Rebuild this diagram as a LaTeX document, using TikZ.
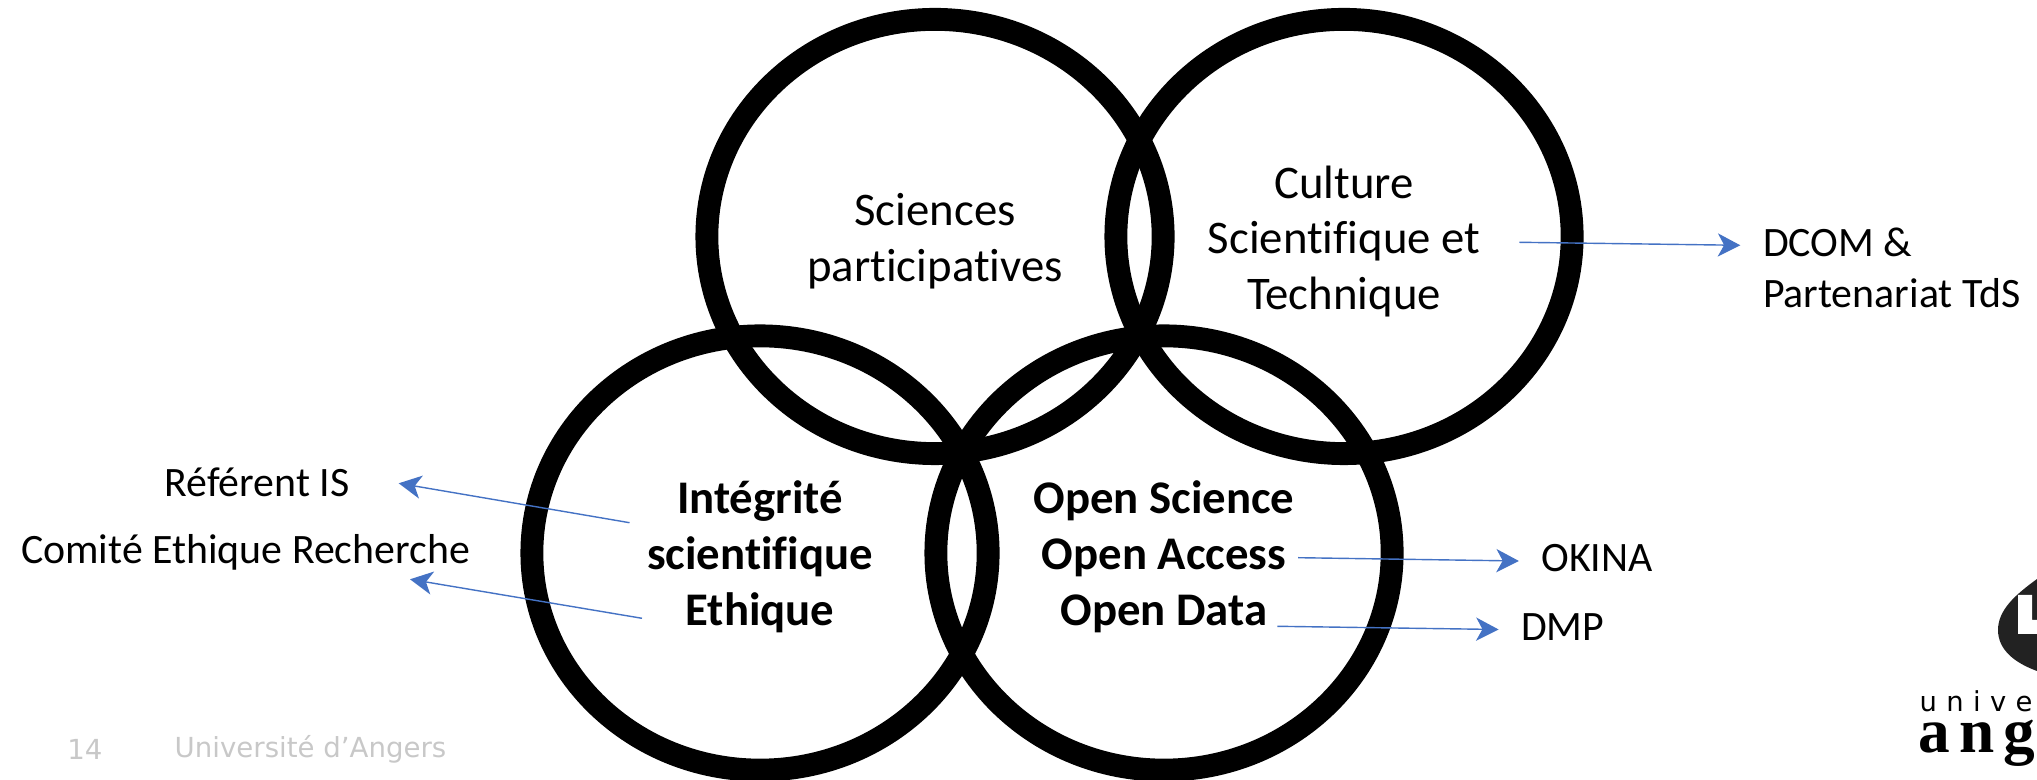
\documentclass[tikz,border=0pt]{standalone}
\usepackage{xcolor}
\usepackage{fontspec}
\usepackage{tikz}
\usetikzlibrary{calc}
\usetikzlibrary{arrows.meta}
\usetikzlibrary{positioning}
\usetikzlibrary{shapes.geometric}
\setmainfont{Carlito}[Ligatures=NoCommon]
\newfontfamily\footfont{DejaVu Sans}
\newfontfamily\logosans[LetterSpace=34]{DejaVu Sans}
\newfontfamily\logoserif[LetterSpace=14]{Liberation Serif}
\definecolor{linkblue}{HTML}{4472C4}
\definecolor{footgray}{HTML}{C8C8C8}
\definecolor{logodark}{HTML}{222222}
\tikzset{>=latex}
\tikzstyle{ring} = [ellipse, draw=black, line width=6.5pt, inner sep=0, outer sep=0, minimum width=4.56cm, minimum height=4.34cm]
\tikzstyle{ringtext} = [draw=none, inner sep=0, align=center, font=\fontsize{13.3}{15.9}\selectfont]
\tikzstyle{boldtext} = [ringtext, font=\fontsize{13.3}{15.9}\selectfont\bfseries]
\tikzstyle{lab} = [draw=none, inner sep=0, outer sep=6.4pt, align=left, font=\fontsize{11.9}{14.4}\selectfont]
\tikzstyle{foot} = [draw=none, inner sep=0, text=footgray, font=\fontsize{7.85}{10}\selectfont\footfont]
\tikzstyle{link} = [-{Stealth[length=6.4pt, width=6.6pt, inset=1.8pt]}, draw=linkblue, line width=0.4pt]

\begin{document}
\begin{tikzpicture}[x=0.01cm, y=-0.01cm]
\useasboundingbox (0, 0) rectangle (2037, 780);
\clip (0, 0) rectangle (2037, 780);
% the four rings
\node [ring] (sciences) at (935, 236.5) {};
\node [ring] (culture) at (1344, 236.5) {};
\node [ring] (integrite) at (760, 553) {};
\node [ring] (openscience) at (1164, 553) {};
% texts in the rings
\node [ringtext] (sciencestext) at (935, 241.5) {Sciences\\participatives};
\node [ringtext] (culturetext) at (1344, 241.5) {Culture\\Scientifique et\\Technique};
\node [boldtext] (integritetext) at (760, 557) {Intégrité\\scientifique\\Ethique};
\node [boldtext] (opentext) at (1164, 557) {Open Science\\Open Access\\Open Data};
% labels
\node [lab] (referent) at (257, 482) {Référent IS};
\node [lab] (comite) at (245.5, 552.5) {Comité Ethique Recherche};
\node [lab, anchor=west, outer sep=0] (dcom) at (1763, 268) {DCOM \&\\Partenariat TdS};
\node [lab] (okina) at (1597, 558) {OKINA};
\node [lab] (dmp) at (1562.7, 627) {DMP};
% free ends of the arrows
\coordinate (refstart) at (629.5, 522.7);
\coordinate (reftip) at (398.7, 483.3);
\coordinate (comstart) at (642, 618.3);
\coordinate (comtip) at (410, 579.3);
\coordinate (dcomstart) at (1519.3, 242.3);
\coordinate (dcomtip) at (1740.3, 245.3);
\coordinate (okistart) at (1298.2, 557.7);
\coordinate (dmpstart) at (1277.4, 626.3);
\draw [link] (refstart) to (reftip);
\draw [link] (comstart) to (comtip);
\draw [link] (dcomstart) to (dcomtip);
\draw [link] (okistart) to ($(okina.west)+(0,3)$);
\draw [link] (dmpstart) to ($(dmp.west)+(0,2.5)$);
% footer
\node [foot] (pagenum) at (85, 749) {14};
\node [foot, anchor=west] (footer) at (174, 749) {Université d’Angers};
% logo
\fill [logodark] (2037, 579) .. controls (2015, 595) and (1998, 610) .. (1998, 630) .. controls (1998, 650) and (2015, 663) .. (2037, 671) -- cycle;
\fill [white] (2018, 595) -- (2032, 595) -- (2032, 620) -- (2037, 620) -- (2037, 634) -- (2018, 634) -- cycle;
\node [draw=none, inner sep=0, anchor=base west, font=\fontsize{7.8}{10}\selectfont\logosans] (logotop) at (1919, 711.7) {univer};
\node [draw=none, inner sep=0, anchor=base west, font=\fontsize{18}{22}\selectfont\bfseries\logoserif] (logobottom) at (1918, 753) {ang};
\end{tikzpicture}
\end{document}
